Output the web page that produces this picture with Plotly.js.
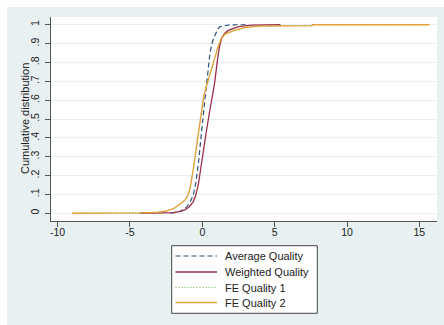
<!DOCTYPE html>
<html>
<head>
<meta charset="utf-8">
<script src="https://cdn.plot.ly/plotly-3.0.1.min.js"></script>
<style>html,body{margin:0;padding:0;background:#fff;}#chart{width:444px;height:325px;}</style>
</head>
<body>
<div id="chart"></div>
<script>
// ---- data ----
const seriesNames = ["Average Quality", "Weighted Quality", "FE Quality 1", "FE Quality 2"];

const avgX = [-2.2, -1.54, -1.2, -0.9, -0.62, -0.45, -0.28, -0.16, 0.0, 0.15, 0.3, 0.53, 0.7, 0.88, 1.05, 1.22, 1.5, 1.78, 2.5, 3.2];
const avgY = [0, 0.01, 0.025, 0.05, 0.097, 0.16, 0.256, 0.36, 0.47, 0.58, 0.69, 0.85, 0.91, 0.945, 0.975, 0.99, 0.995, 0.998, 1.0, 1.0];

const wX = [-4.3, -3, -2, -1.5, -1.2, -0.9, -0.62, -0.45, -0.28, -0.1, 0.07, 0.25, 0.42, 0.63, 0.85, 1.06, 1.2, 1.34, 1.55, 1.8, 2.26, 2.5, 3.4, 4.5, 5.4];
const wY = [0, 0.001, 0.003, 0.01, 0.018, 0.035, 0.062, 0.095, 0.15, 0.24, 0.336, 0.42, 0.5, 0.6, 0.69, 0.82, 0.89, 0.928, 0.955, 0.97, 0.984, 0.99, 0.998, 1.0, 1.0];

const fe1X = [-9, -6, -4, -3, -2.5, -2, -1.77, -1.5, -1.2, -1.0, -0.85, -0.72, -0.6, -0.39, -0.15, 0.1, 0.35, 0.55, 0.76, 0.95, 1.1, 1.3, 1.57, 2.2, 2.95, 3.85, 7.6, 7.6, 15.7];
const fe1Y = [0, 0, 0.002, 0.006, 0.012, 0.024, 0.035, 0.05, 0.07, 0.095, 0.13, 0.185, 0.245, 0.36, 0.5, 0.62, 0.69, 0.745, 0.79, 0.85, 0.885, 0.925, 0.95, 0.97, 0.985, 0.993, 0.995, 1.0, 1.0];

const fe2X = [-9, -6, -4, -3, -2.5, -2, -1.77, -1.5, -1.2, -1.0, -0.85, -0.72, -0.6, -0.39, -0.15, 0.1, 0.35, 0.55, 0.76, 0.95, 1.1, 1.3, 1.57, 2.2, 2.95, 3.85, 7.6, 7.6, 15.7];
const fe2Y = [0, 0, 0.002, 0.006, 0.012, 0.024, 0.035, 0.05, 0.07, 0.095, 0.13, 0.185, 0.245, 0.36, 0.5, 0.62, 0.69, 0.745, 0.79, 0.85, 0.885, 0.925, 0.95, 0.97, 0.985, 0.993, 0.995, 1.0, 1.0];

const xTickVals = [-10, -5, 0, 5, 10, 15];
const xTickText = ["-10", "-5", "0", "5", "10", "15"];
const yTickVals = [0, 0.1, 0.2, 0.3, 0.4, 0.5, 0.6, 0.7, 0.8, 0.9, 1];
const yTickText = ["0", ".1", ".2", ".3", ".4", ".5", ".6", ".7", ".8", ".9", "1"];
const yTitle = "Cumulative distribution";

// ---- styles ----
const colors = ["#2f527a", "#9e2f4a", "#6fae5a", "#e3a23a"];
const dashes = ["5px,3px", "solid", "1px,2px", "solid"];
const widths = [1.2, 1.3, 1.2, 1.3];

const W = 444, H = 325;
const M = {l: 51, r: 7, t: 17, b: 104};
const PW = W - M.l - M.r, PH = H - M.t - M.b;
const px = p => (p - M.l) / PW;
const py = p => (H - M.b - p) / PH;

const xs = [avgX, wX, fe1X, fe2X];
const ys = [avgY, wY, fe1Y, fe2Y];
const order = [0, 2, 1, 3];
const traces = order.map(i => ({
  x: xs[i], y: ys[i], type: "scatter", mode: "lines", name: seriesNames[i],
  line: {color: colors[i], width: widths[i], dash: dashes[i]},
  showlegend: false, hoverinfo: "skip"
}));

const bg = "#e8f0f2";
const shapes = [
  {type: "rect", xref: "paper", yref: "paper", x0: px(0), x1: px(W + 5), y0: py(0), y1: py(7), fillcolor: "#ffffff", line: {width: 0}, layer: "below"},
  {type: "rect", xref: "paper", yref: "paper", x0: px(0), x1: px(7), y0: py(H + 5), y1: py(0), fillcolor: "#ffffff", line: {width: 0}, layer: "below"},
  {type: "rect", xref: "paper", yref: "paper", x0: px(171.7), x1: px(317.3), y0: py(313.3), y1: py(245.7), fillcolor: "#ffffff", line: {color: "#444", width: 1}}
];
const annotations = [
  {xref: "paper", yref: "paper", x: px(25), y: py(119), text: yTitle, textangle: -90, showarrow: false,
   xanchor: "center", yanchor: "middle", font: {size: 11, color: "#222"}}
];
const rows = [256, 272, 287.5, 302.5];
seriesNames.forEach((n, i) => {
  shapes.push({type: "line", xref: "paper", yref: "paper", x0: px(175.5), x1: px(217), y0: py(rows[i]), y1: py(rows[i]),
    line: {color: colors[i], width: widths[i], dash: dashes[i]}});
  annotations.push({xref: "paper", yref: "paper", x: px(222.5), y: py(rows[i]), text: n, showarrow: false,
    xanchor: "left", yanchor: "middle", font: {size: 11, color: "#222"}});
});

const layout = {
  width: W, height: H,
  margin: M,
  paper_bgcolor: bg, plot_bgcolor: "#ffffff",
  font: {family: "Liberation Sans, Arial, sans-serif", size: 10.5, color: "#222"},
  showlegend: false,
  xaxis: {
    range: [(M.l - 202.3) / 14.47, (W - M.r - 202.3) / 14.47],
    tickvals: xTickVals, ticktext: xTickText,
    showgrid: false, zeroline: false,
    showline: true, linecolor: "#555", linewidth: 1,
    ticks: "outside", ticklen: 5, tickcolor: "#555",
    ticklabelstandoff: -4,
    tickfont: {size: 10.5}
  },
  yaxis: {
    range: [-0.041, 1.041],
    tickvals: yTickVals, ticktext: yTickText,
    tickangle: -90,
    showgrid: true, gridcolor: "#e6eff1", gridwidth: 1, zeroline: false,
    showline: true, linecolor: "#555", linewidth: 1,
    ticks: "outside", ticklen: 5, tickcolor: "#555",
    ticklabelstandoff: 2,
    tickfont: {size: 10.5}
  },
  shapes: shapes,
  annotations: annotations
};

Plotly.newPlot("chart", traces, layout, {displayModeBar: false, staticPlot: true});
</script>
</body>
</html>
